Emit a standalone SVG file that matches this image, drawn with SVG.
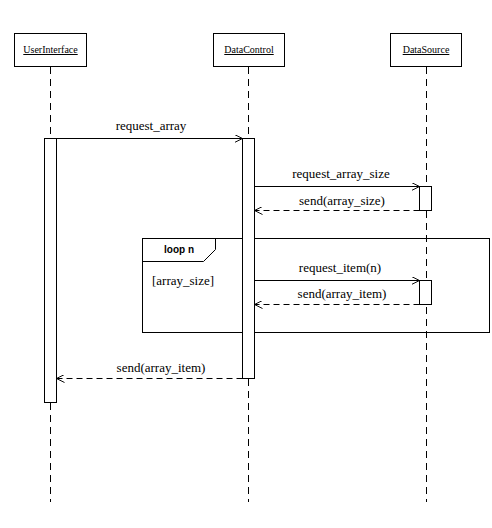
<svg xmlns="http://www.w3.org/2000/svg" width="492" height="528" viewBox="0 0 492 528">
<style>
.box{fill:#fff;stroke:#000;stroke-width:1}
.life{stroke:#000;stroke-width:1;stroke-dasharray:7,5;fill:none}
.act{fill:#fff;stroke:#000;stroke-width:1}
.msg{stroke:#000;stroke-width:1;fill:none}
.ret{stroke:#000;stroke-width:1;fill:none;stroke-dasharray:6,4}
.hd{font-family:'Liberation Serif',serif;font-size:10px;text-decoration:underline;text-anchor:middle}
.lbl{font-family:'Liberation Serif',serif;font-size:13px;text-anchor:middle}
.frame{fill:none;stroke:#000;stroke-width:1}
</style>
<defs>
<marker id="open" viewBox="0 0 10 10" refX="10" refY="5" markerWidth="8" markerHeight="8" markerUnits="userSpaceOnUse" orient="auto">
<path d="M0,0 L10,5 L0,10" fill="none" stroke="#000" stroke-width="1.2"/>
</marker>
</defs>
<rect width="492" height="528" fill="#fff"/>
<g id="lifelines">
<line class="life" x1="50.5" y1="67" x2="50.5" y2="502"/>
<line class="life" x1="248.5" y1="67" x2="248.5" y2="502"/>
<line class="life" x1="426.5" y1="67" x2="426.5" y2="502"/>
</g>
<g id="loop-frame">
<rect class="frame" x="142.5" y="238.5" width="347" height="94"/>
<path class="frame" d="M142.5,261.5 H203.5 L215.5,249.5 V238.5"/>
<text x="179" y="253" font-family="'Liberation Sans',sans-serif" font-size="10px" font-weight="bold" text-anchor="middle">loop n</text>
<text x="152" y="285" font-family="'Liberation Serif',serif" font-size="13px">[array_size]</text>
</g>
<g id="UserInterface">
<rect class="box" x="14.5" y="33.5" width="72" height="33"/>
<text class="hd" x="50.5" y="53">UserInterface</text>
<rect class="act" x="44.5" y="138.5" width="12" height="264"/>
</g>
<g id="DataControl">
<rect class="box" x="213.5" y="33.5" width="71" height="33"/>
<text class="hd" x="249" y="53">DataControl</text>
<rect class="act" x="242.5" y="138.5" width="12" height="240"/>
</g>
<g id="DataSource">
<rect class="box" x="390.5" y="33.5" width="71" height="33"/>
<text class="hd" x="426" y="53">DataSource</text>
<rect class="act" x="419.5" y="186.5" width="12" height="24"/>
<rect class="act" x="419.5" y="280.5" width="12" height="24"/>
</g>
<g id="connectors">
<line class="msg" x1="56.5" y1="138.5" x2="242.5" y2="138.5" marker-end="url(#open)"/>
<text class="lbl" x="151" y="130">request_array</text>
<line class="msg" x1="254.5" y1="186.5" x2="419.5" y2="186.5" marker-end="url(#open)"/>
<text class="lbl" x="341" y="178">request_array_size</text>
<line class="ret" x1="419.5" y1="210.5" x2="254.5" y2="210.5" marker-end="url(#open)"/>
<text class="lbl" x="342" y="205">send(array_size)</text>
<line class="msg" x1="254.5" y1="280.5" x2="419.5" y2="280.5" marker-end="url(#open)"/>
<text class="lbl" x="340" y="272">request_item(n)</text>
<line class="ret" x1="419.5" y1="304.5" x2="254.5" y2="304.5" marker-end="url(#open)"/>
<text class="lbl" x="342" y="298">send(array_item)</text>
<line class="ret" x1="242.5" y1="378.5" x2="56.5" y2="378.5" marker-end="url(#open)"/>
<text class="lbl" x="161" y="372">send(array_item)</text>
</g>
</svg>
